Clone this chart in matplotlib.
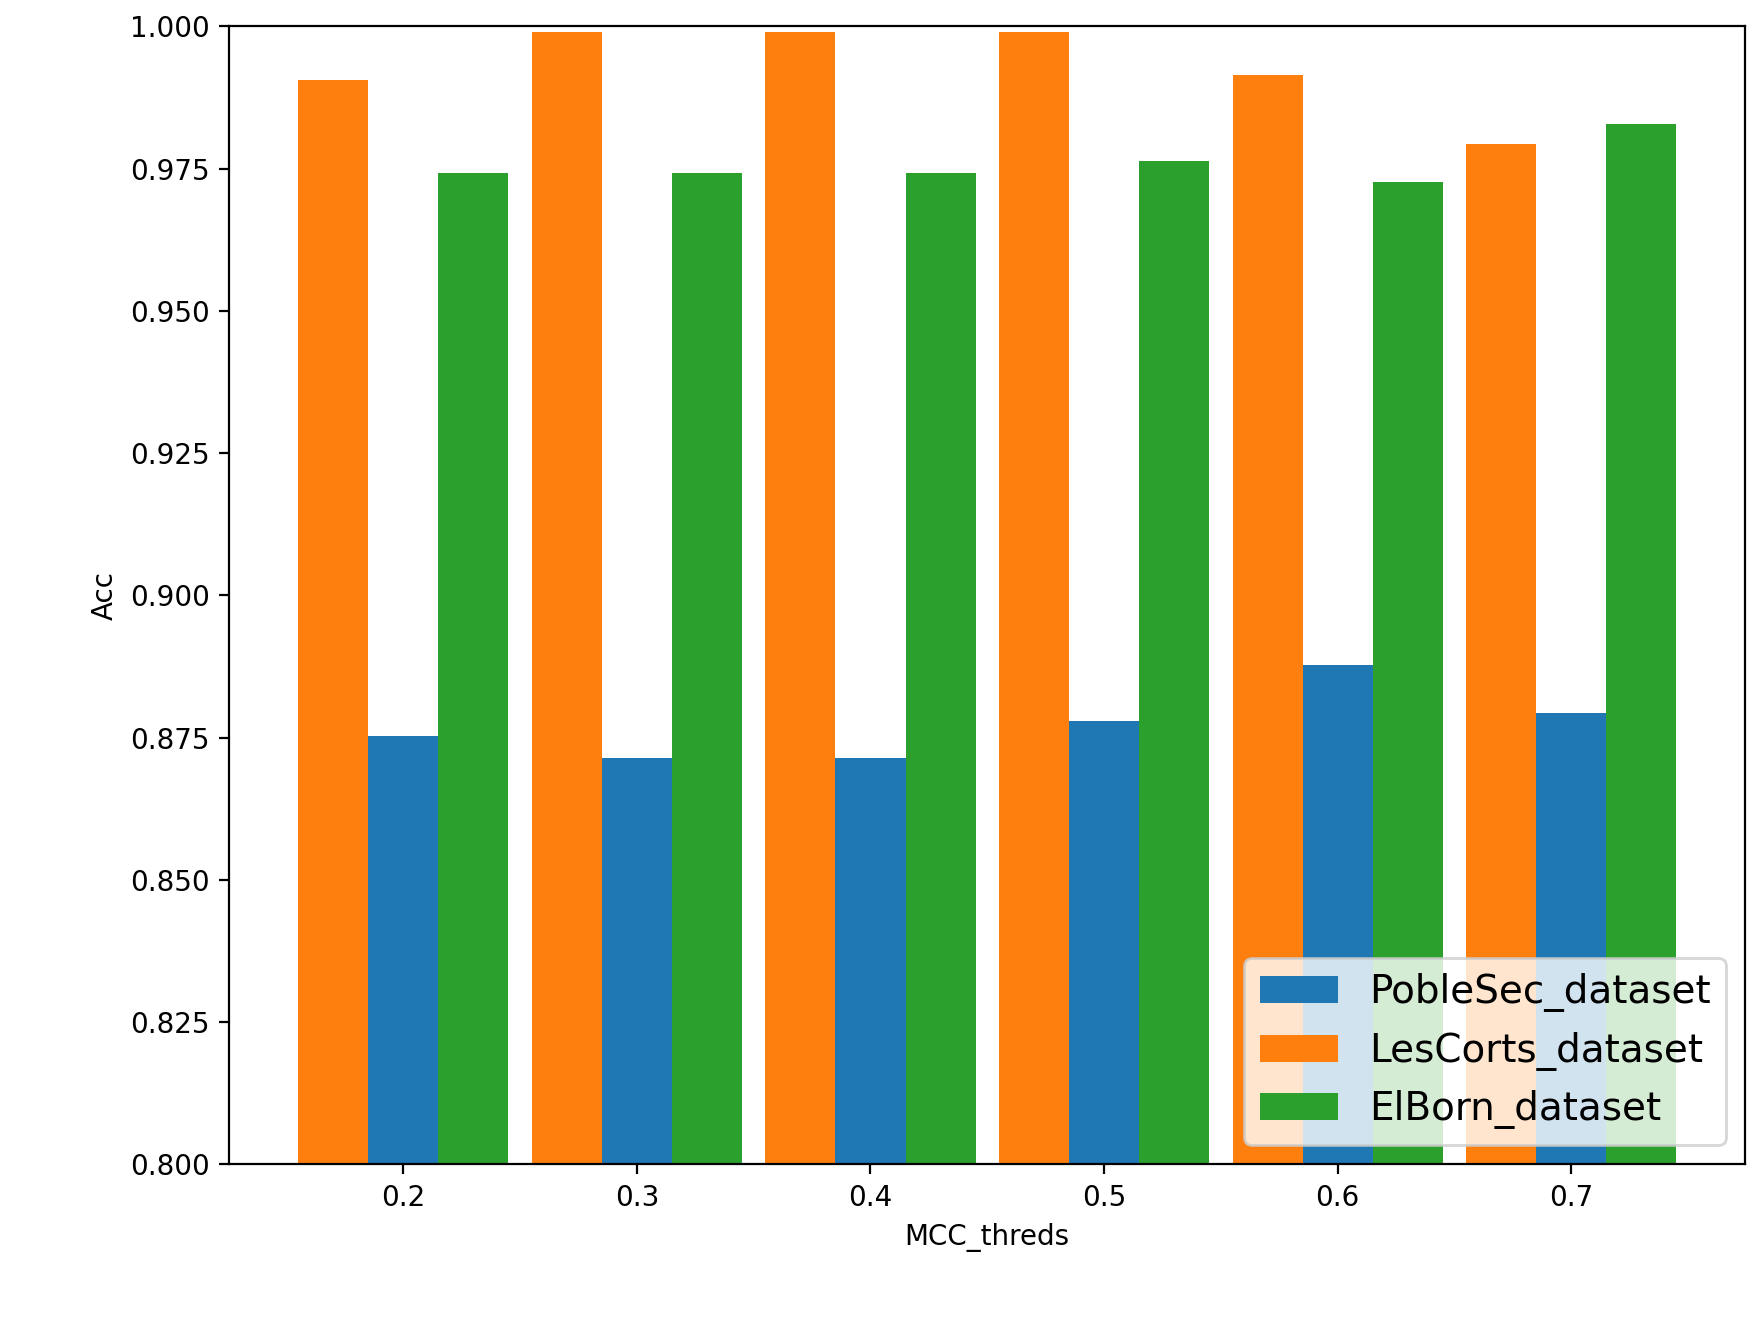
import matplotlib
matplotlib.use("Agg")
import matplotlib.pyplot as plt
import numpy as np

thresholds = [0.2, 0.3, 0.4, 0.5, 0.6, 0.7]
poblesec = [0.8753, 0.8714, 0.8714, 0.8780, 0.8877, 0.8793]
lescorts = [0.9906, 0.9990, 0.9990, 0.9990, 0.9915, 0.9794]
elborn = [0.9742, 0.9742, 0.9742, 0.9764, 0.9727, 0.9829]

x = np.array(thresholds)
w = 0.03
fig, ax = plt.subplots(figsize=(8.815, 6.615), dpi=200)
ax.bar(x, poblesec, width=w, color="#1f77b4", label="PobleSec_dataset")
ax.bar(x - w, lescorts, width=w, color="#ff7f0e", label="LesCorts_dataset")
ax.bar(x + w, elborn, width=w, color="#2ca02c", label="ElBorn_dataset")
ax.set_ylim(0.8, 1.0)
ax.set_xticks(thresholds)
ax.set_xticklabels([str(t) for t in thresholds])
ax.set_xlabel("MCC_threds")
ax.set_ylabel("Acc")
ax.legend(loc="lower right", fontsize=14)
fig.subplots_adjust(left=0.13, right=0.99, top=0.98, bottom=0.12)
fig.savefig("out.png")
